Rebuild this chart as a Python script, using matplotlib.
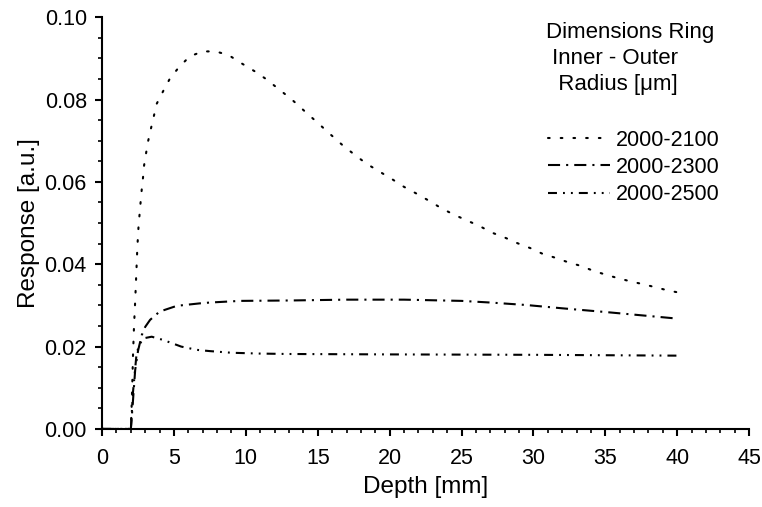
import numpy as np
import matplotlib
matplotlib.use("Agg")
import matplotlib.pyplot as plt

plt.rcParams['font.family'] = ['Liberation Sans', 'DejaVu Sans']

# ---- data ----
depth_2100 = [0, 2.0, 2.05, 2.1, 2.15, 2.22, 2.3, 2.37, 2.45, 2.53, 2.65, 2.76, 2.85, 2.92,
              3.06, 3.2, 3.4, 3.6, 3.8, 4.24, 4.7, 5.35, 6.1, 7.0, 7.9, 8.8, 9.7, 10.6,
              11.4, 12.3, 13.2, 14.05, 14.95, 15.8, 16.7, 17.6, 18.4, 19.3, 20.2, 21.0,
              21.9, 22.8, 23.6, 24.5, 25.4, 26.3, 27.1, 28.0, 28.9, 29.8, 30.6, 31.5,
              32.4, 33.3, 34.1, 35.0, 35.9, 36.8, 37.7, 38.5, 39.4, 40.0]
resp_2100 = [0, 0, 0.005, 0.011, 0.018, 0.025, 0.031, 0.037, 0.044, 0.049, 0.054, 0.0583,
             0.0612, 0.064, 0.067, 0.0699, 0.073, 0.076, 0.079, 0.082, 0.085, 0.0879,
             0.0905, 0.0917, 0.0917, 0.0908, 0.0888, 0.0869, 0.085, 0.0825, 0.080,
             0.0773, 0.0745, 0.0718, 0.069, 0.0665, 0.0644, 0.0625, 0.0606, 0.0588,
             0.0571, 0.0553, 0.0536, 0.052, 0.0506, 0.0492, 0.0477, 0.0465, 0.0451,
             0.0439, 0.0426, 0.0416, 0.0405, 0.0396, 0.0385, 0.0375, 0.0366, 0.0358,
             0.0351, 0.0344, 0.0336, 0.0332]

depth_2300 = [0, 2.0, 2.15, 2.3, 2.5, 2.76, 3.0, 3.34, 4.0, 5.2, 6.8, 7.5, 9.6, 13.1, 17.0,
              21.0, 25.0, 27.0, 29.5, 32.0, 35.0, 37.5, 40.0]
resp_2300 = [0, 0, 0.007, 0.0143, 0.019, 0.0228, 0.0248, 0.0265, 0.0285, 0.0299, 0.0305,
             0.0307, 0.0311, 0.0312, 0.0314, 0.0314, 0.0311, 0.0307, 0.0301, 0.0293,
             0.0284, 0.0276, 0.0268]

depth_2500 = [0, 2.0, 2.15, 2.4, 2.6, 2.87, 3.45, 4.26, 5.5, 6.6, 7.5, 9.0, 11.0, 13.0,
              20.0, 30.0, 40.0]
resp_2500 = [0, 0, 0.009, 0.0184, 0.0205, 0.022, 0.0224, 0.0216, 0.020, 0.0192, 0.0189,
             0.0185, 0.0183, 0.0182, 0.0181, 0.018, 0.0178]

series_labels = ['2000-2100', '2000-2300', '2000-2500']
legend_title = 'Dimensions Ring\n Inner - Outer\n  Radius [\u03bcm]'

# ---- figure ----
fig = plt.figure(figsize=(7.62, 5.07), dpi=100)
ax = fig.add_axes([0.134, 0.154, 0.849, 0.812])

lw = 1.5
l1, = ax.plot(depth_2100, resp_2100, color='black', lw=lw,
              dashes=(0.8, 5.3), dash_capstyle='round', label=series_labels[0])
l2, = ax.plot(depth_2300, resp_2300, color='black', lw=lw,
              dashes=(5.8, 2.9, 1.0, 2.9), label=series_labels[1])
l3, = ax.plot(depth_2500, resp_2500, color='black', lw=lw,
              dashes=(4.3, 2.9, 0.9, 2.9, 0.9, 2.9), label=series_labels[2])

ax.set_xlim(0, 45)
ax.set_ylim(0, 0.10)
ax.set_xticks(np.arange(0, 46, 5))
ax.set_xticks(np.arange(0, 46, 1), minor=True)
ax.set_yticks(np.arange(0, 0.101, 0.02))
ax.set_yticks(np.arange(0, 0.101, 0.005), minor=True)
ax.yaxis.set_major_formatter(matplotlib.ticker.FormatStrFormatter('%.2f'))

for s in ['top', 'right']:
    ax.spines[s].set_visible(False)
for s in ['left', 'bottom']:
    ax.spines[s].set_linewidth(1.5)

ax.tick_params(which='major', direction='out', length=5, width=1.5, labelsize=15.5)
ax.tick_params(axis='x', which='major', pad=9)
ax.tick_params(axis='y', which='major', pad=6)
ax.tick_params(which='minor', direction='out', length=3, width=1.2)

ax.set_xlabel('Depth [mm]', fontsize=17.5, labelpad=5)
ax.set_ylabel('Response [a.u.]', fontsize=17.5, labelpad=3)

# legend title block and entries
fig.text(546 / 762, 1 - 22 / 507, legend_title, fontsize=16, ha='left', va='top',
         linespacing=1.3)
ax.legend(handles=[l1, l2, l3], loc='upper left', frameon=False, fontsize=15.5,
          bbox_to_anchor=(548 / 762, 1 - 130 / 507), bbox_transform=fig.transFigure,
          borderpad=0, borderaxespad=0, handlelength=2.9, handletextpad=0.25,
          labelspacing=0.28)

fig.savefig('out.png', dpi=100)
